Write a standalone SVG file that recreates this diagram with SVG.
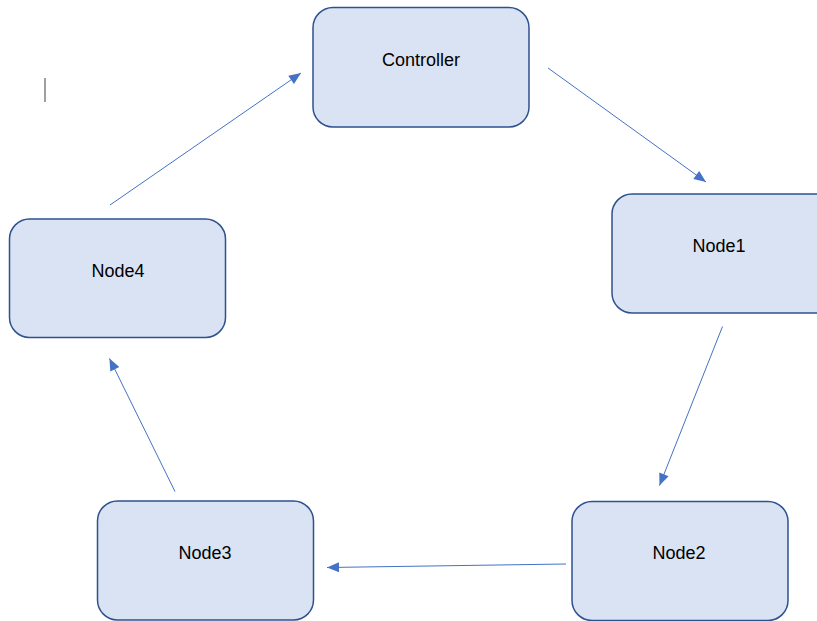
<svg xmlns="http://www.w3.org/2000/svg" width="817" height="621" viewBox="0 0 817 621">
  <style>
    .box { fill: #DAE3F3; stroke: #2F528F; stroke-width: 1.5; }
    .lbl { font-family: "Liberation Sans", Arial, sans-serif; font-size: 18px; fill: #000; text-anchor: middle; }
    .edge { stroke: #4472C4; stroke-width: 1; fill: none; marker-end: url(#arrow); }
  </style>
  <defs>
    <marker id="arrow" markerUnits="userSpaceOnUse" markerWidth="12" markerHeight="10" refX="12" refY="5" orient="auto" overflow="visible">
      <path d="M0,0 L12,5 L0,10 z" fill="#4472C4"/>
    </marker>
  </defs>
  <rect width="817" height="621" fill="#ffffff"/>
  <line x1="45" y1="78" x2="45" y2="102" stroke="#7f7f7f" stroke-width="1.5"/>
  <g id="controller">
    <rect class="box" x="313" y="7.5" width="216" height="119.5" rx="20"/>
    <text class="lbl" x="421" y="66">Controller</text>
  </g>
  <g id="node1">
    <rect class="box" x="612" y="194" width="225" height="119" rx="20"/>
    <text class="lbl" x="719" y="252">Node1</text>
  </g>
  <g id="node2">
    <rect class="box" x="572" y="501.5" width="216" height="119" rx="20"/>
    <text class="lbl" x="679" y="559">Node2</text>
  </g>
  <g id="node3">
    <rect class="box" x="97.5" y="501" width="216" height="119" rx="20"/>
    <text class="lbl" x="205" y="559">Node3</text>
  </g>
  <g id="node4">
    <rect class="box" x="9.5" y="219" width="216" height="118.5" rx="20"/>
    <text class="lbl" x="118" y="277">Node4</text>
  </g>
  <g id="connectors">
    <line class="edge" x1="548" y1="68" x2="706" y2="182"/>
    <line class="edge" x1="722.5" y1="326.5" x2="659.5" y2="485.5"/>
    <line class="edge" x1="566" y1="564" x2="327" y2="567.5"/>
    <line class="edge" x1="175" y1="491.5" x2="109.5" y2="358.5"/>
    <line class="edge" x1="110" y1="205" x2="301" y2="73"/>
  </g>
</svg>
